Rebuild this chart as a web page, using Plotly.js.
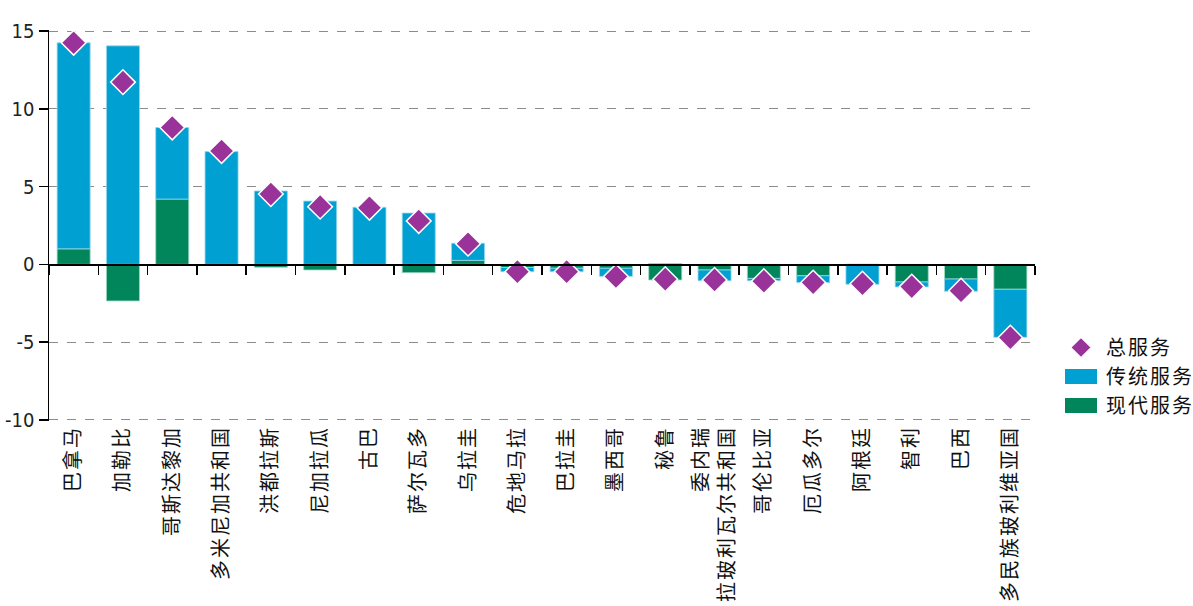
<!DOCTYPE html>
<html>
<head>
<meta charset="utf-8">
<script src="https://cdn.plot.ly/plotly-3.0.1.min.js"></script>
<style>
html,body{margin:0;padding:0;background:#fff;}
#chart{width:1193px;height:606px;}
.xtick text{letter-spacing:2px;}
</style>
</head>
<body>
<div id="chart"></div>
<script>
var categories = ["巴拿马","加勒比","哥斯达黎加","多米尼加共和国","洪都拉斯","尼加拉瓜","古巴","萨尔瓦多","乌拉圭","危地马拉","巴拉圭","墨西哥","秘鲁","委内瑞<br>拉玻利瓦尔共和国","哥伦比亚","厄瓜多尔","阿根廷","智利","巴西","多民族玻利维亚国"];
var traditional = [13.25, 14.05, 4.6, 7.25, 4.72, 4.07, 3.67, 3.3, 1.1, -0.27, -0.22, -0.52, 0.05, -0.69, -0.15, -0.44, -1.28, -0.32, -0.79, -3.09];
var modern = [1.0, -2.35, 4.2, 0.0, -0.19, -0.36, 0.0, -0.53, 0.26, -0.2, -0.25, -0.25, -1.0, -0.36, -0.9, -0.73, 0.0, -1.13, -0.94, -1.6];
var total = [14.25, 11.72, 8.8, 7.29, 4.52, 3.71, 3.64, 2.79, 1.33, -0.47, -0.47, -0.78, -0.95, -1.0, -1.08, -1.17, -1.24, -1.43, -1.69, -4.71];
var yTicks = [-10, -5, 0, 5, 10, 15];
var yTickText = ["-10", "-5", "0", "5", "10", "15"];

var cjk = '"Noto Sans CJK SC", "Noto Sans", sans-serif';
var narrow = '"Liberation Sans Narrow", "DejaVu Sans Condensed", sans-serif';

var traces = [
  {
    type: 'bar', name: '现代服务', x: categories, y: modern,
    marker: {color: '#00865A', line: {color: 'rgba(160,215,195,0.8)', width: 1}},
    width: 0.67, legendrank: 3, hoverinfo: 'y'
  },
  {
    type: 'bar', name: '传统服务', x: categories, y: traditional,
    marker: {color: '#00A0D2', line: {color: 'rgba(150,215,235,0.8)', width: 1}},
    width: 0.67, legendrank: 2, hoverinfo: 'y'
  },
  {
    type: 'scatter', mode: 'markers', name: '总服务', x: categories, y: total,
    xaxis: 'x2', yaxis: 'y',
    marker: {symbol: 'diamond', size: 19, color: '#993399', line: {color: '#ffffff', width: 1.5}},
    legendrank: 1, hoverinfo: 'y'
  }
];

var layout = {
  width: 1193, height: 606,
  margin: {l: 49, r: 158, t: 30, b: 185},
  paper_bgcolor: '#ffffff', plot_bgcolor: '#ffffff',
  barmode: 'relative',
  bargap: 0.33,
  showlegend: true,
  legend: {
    xref: 'container', yref: 'container',
    x: 1056 / 1193, xanchor: 'left', y: 1 - 328 / 606, yanchor: 'top',
    font: {family: cjk, size: 20, color: '#111'},
    traceorder: 'normal', tracegroupgap: 0, itemwidth: 40,
    bgcolor: 'rgba(0,0,0,0)'
  },
  xaxis: {
    type: 'category', range: [-0.5, 19.5],
    showline: false, ticks: '', showgrid: false, zeroline: false,
    tickangle: -90, tickfont: {family: cjk, size: 20, color: '#111'},
    automargin: false, fixedrange: true
  },
  xaxis2: {
    type: 'category', range: [-0.5, 19.5], overlaying: 'x',
    anchor: 'free', position: 10.07 / 25.14, side: 'bottom',
    showline: true, linecolor: '#000', linewidth: 1.5,
    ticks: 'outside', tickson: 'boundaries', ticklen: 9, tickwidth: 1.5, tickcolor: '#000',
    showticklabels: false, showgrid: false, zeroline: false, fixedrange: true
  },
  yaxis: {
    range: [-10.07, 15.07], tickvals: yTicks, ticktext: yTickText,
    showline: true, linecolor: '#000', linewidth: 1.5,
    ticks: 'outside', ticklen: 9, tickwidth: 1.5, tickcolor: '#000',
    showgrid: true, gridcolor: '#8c8c8c', griddash: 'dash', gridwidth: 1,
    zeroline: false,
    tickfont: {family: narrow, size: 20, color: '#222'},
    automargin: false, fixedrange: true
  }
};

function polishLegend(gd) {
  var items = gd.querySelectorAll('.legendtext');
  for (var i = 0; i < items.length; i++) {
    items[i].style.letterSpacing = '2px';
  }
  var paths = gd.querySelectorAll('.legendpoints path');
  for (var j = 0; j < paths.length; j++) {
    var p = paths[j];
    if (p.classList.contains('scatterpts')) continue;
    p.setAttribute('d', 'M-16,-7.5H16V7.5H-16Z');
    p.style.strokeWidth = '0px';
  }
}

Plotly.newPlot('chart', traces, layout, {staticPlot: true, displayModeBar: false}).then(function (gd) {
  polishLegend(gd);
  setTimeout(function () { polishLegend(gd); }, 50);
});
</script>
</body>
</html>
